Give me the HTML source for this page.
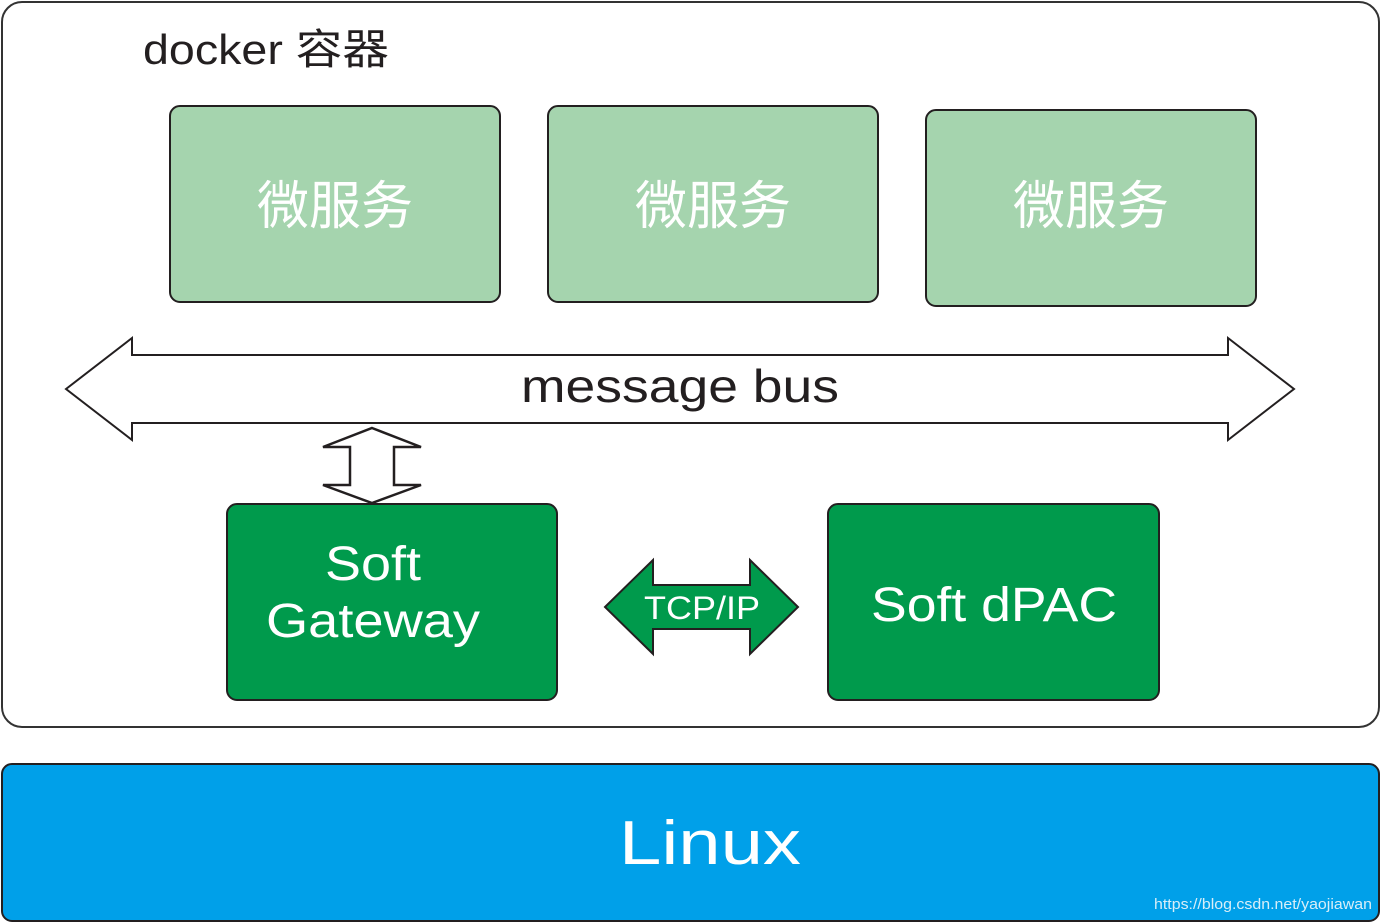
<!DOCTYPE html>
<html><head><meta charset="utf-8"><style>
html,body{margin:0;padding:0;background:#fff;}
svg{display:block;}
text{font-family:"Liberation Sans","Noto Sans CJK SC",sans-serif;}
</style></head><body>
<svg width="1381" height="923" viewBox="0 0 1381 923" xmlns="http://www.w3.org/2000/svg">
<rect x="2" y="2" width="1377" height="725" rx="20" fill="#fff" stroke="#333" stroke-width="2"/>
<text x="143" y="64" font-size="42" fill="#231f20" textLength="246" lengthAdjust="spacingAndGlyphs">docker 容器</text>
<g stroke="#231f20" stroke-width="2" fill="#a5d4ae">
<rect x="170" y="106" width="330" height="196" rx="10"/>
<rect x="548" y="106" width="330" height="196" rx="10"/>
<rect x="926" y="110" width="330" height="196" rx="10"/>
</g>
<g fill="#fff" font-size="52" text-anchor="middle">
<text x="335" y="224">微服务</text>
<text x="713" y="224">微服务</text>
<text x="1091" y="224">微服务</text>
</g>
<polygon points="66,389 132,338 132,355 1228,355 1228,338 1294,389 1228,440 1228,423 132,423 132,440" fill="#fff" stroke="#231f20" stroke-width="2"/>
<text x="521" y="402" font-size="46" fill="#231f20" textLength="318" lengthAdjust="spacingAndGlyphs">message bus</text>
<polygon points="372,428 421,447 394,447 394,485 421,485 372,503 323,485 350,485 350,447 323,447" fill="#fff" stroke="#231f20" stroke-width="2.5"/>
<g stroke="#231f20" stroke-width="2" fill="#009a4c">
<rect x="227" y="504" width="330" height="196" rx="10"/>
<rect x="828" y="504" width="331" height="196" rx="10"/>
<polygon points="605,607 653,560 653,585 750,585 750,560 798,607 750,654 750,629 653,629 653,654"/>
</g>
<g fill="#fff" text-anchor="middle">
<text x="373" y="580" font-size="48" textLength="96" lengthAdjust="spacingAndGlyphs">Soft</text>
<text x="373" y="637" font-size="48" textLength="214" lengthAdjust="spacingAndGlyphs">Gateway</text>
<text x="994" y="621" font-size="48" textLength="246" lengthAdjust="spacingAndGlyphs">Soft dPAC</text>
<text x="702" y="619" font-size="32" textLength="116" lengthAdjust="spacingAndGlyphs">TCP/IP</text>
</g>
<rect x="2" y="764" width="1377" height="157" rx="10" fill="#00a0e9" stroke="#231f20" stroke-width="2"/>
<text x="710" y="864" font-size="62" fill="#fff" text-anchor="middle" textLength="182" lengthAdjust="spacingAndGlyphs">Linux</text>
<text x="1372" y="909" font-size="15" fill="#d8eef8" text-anchor="end" textLength="218" lengthAdjust="spacingAndGlyphs">https://blog.csdn.net/yaojiawan</text>
</svg>
</body></html>
